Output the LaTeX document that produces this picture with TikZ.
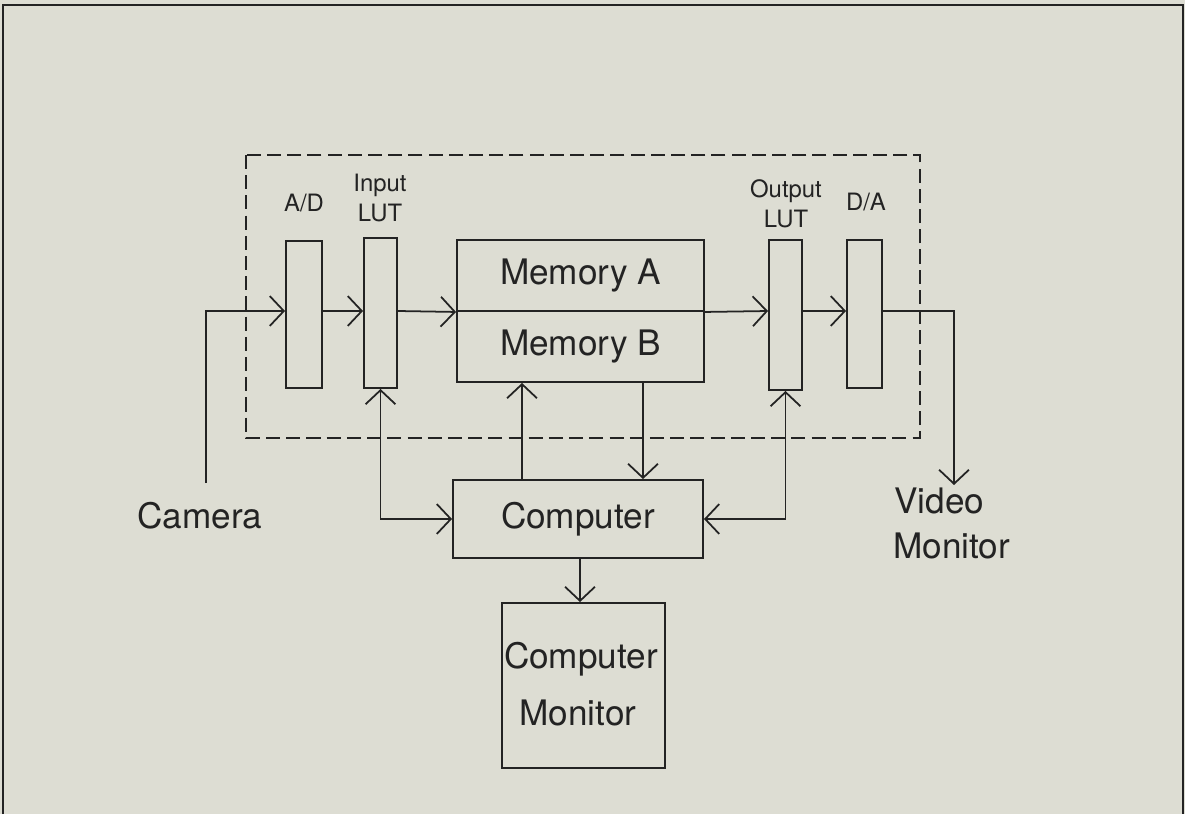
\documentclass[tikz,border=0pt]{standalone}
\usepackage{fontspec}
\setmainfont{TeX Gyre Heros}
\usetikzlibrary{arrows.meta}
\definecolor{paper}{RGB}{221,221,211}
\definecolor{ink}{RGB}{35,35,35}
\tikzset{
  box/.style={draw=ink, line width=1.1pt, inner sep=0pt},
  big/.style={font=\fontsize{20}{24}\selectfont, text=ink, anchor=base, inner sep=0pt},
  small/.style={font=\fontsize{13.6}{16}\selectfont, text=ink, anchor=base, inner sep=0pt},
  conn/.style={draw=ink, line width=1pt},
  arr/.style={conn, -{Straight Barb[length=8pt,width=17pt,line width=1pt]}},
  darr/.style={conn, {Straight Barb[length=8pt,width=17pt,line width=1pt]}-{Straight Barb[length=8pt,width=17pt,line width=1pt]}},
}
\begin{document}
\begin{tikzpicture}[x=0.02cm,y=-0.02cm]
\fill[paper] (0,0) rectangle (1185,814);
\useasboundingbox (0,0) rectangle (1185,814);
% outer frame
\draw[ink, line width=1.5pt] (3,814) -- (3,5) -- (1183,5) -- (1183,814);
% dashed enclosure
\draw[ink, line width=1pt, dash pattern=on 8pt off 3.5pt] (246,155) rectangle (920,438);

% blocks
\node[box, minimum width=0.72cm, minimum height=2.94cm] (ad) at (304,314.5) {};
\node[box, minimum width=0.66cm, minimum height=3.0cm] (inlut) at (380.5,313) {};
\node[box, minimum width=4.94cm, minimum height=1.42cm, big, anchor=center] (memA) at (580.5,275.5) {Memory A};
\node[box, minimum width=4.94cm, minimum height=1.42cm, big, anchor=center] (memB) at (580.5,346.5) {Memory B};
\node[box, minimum width=0.66cm, minimum height=3.0cm] (outlut) at (785.5,315) {};
\node[box, minimum width=0.70cm, minimum height=2.96cm] (da) at (864.5,314) {};
\node[box, minimum width=5.0cm, minimum height=1.56cm, big, anchor=center] (comp) at (578,519) {Computer};
\node[box, minimum width=3.26cm, minimum height=3.3cm] (mon) at (583.5,685.5) {};

% labels
\node[small] (lad) at (304,212) {A/D};
\node[small] (lin1) at (380,192) {Input};
\node[small] (lin2) at (380,221) {LUT};
\node[small] (lout1) at (786,197) {Output};
\node[small] (lout2) at (786,227) {LUT};
\node[small] (lda) at (866,210) {D/A};
\node[big] (lcam) at (200,528) {Camera};
\node[big, anchor=base west] (lvm1) at (894,513) {Video};
\node[big, anchor=base west] (lvm2) at (893,558) {Monitor};
\node[big] (lcm1) at (581,668) {Computer};
\node[big] (lcm2) at (578,725) {Monitor};

% helper coordinates
\coordinate (sig) at (0,311);
\coordinate (cam) at (206,483);
\coordinate (vturn) at (954,311);
\coordinate (vm) at (954,485);
\coordinate (up) at (522,0);
\coordinate (dn) at (643,0);
\coordinate (cm) at (580,0);

% signal path
\draw[arr] (cam) |- (ad.west |- sig);
\draw[arr] (ad.east |- sig) -- (inlut.west |- sig);
\draw[arr] (inlut.east |- sig) -- (memA.south west);
\draw[arr] (memA.south east) -- (outlut.west |- sig);
\draw[arr] (outlut.east |- sig) -- (da.west |- sig);
\draw[arr] (da.east |- sig) -- (vturn) -- (vm);

% computer links
\draw[darr] (inlut.south) |- (comp.west);
\draw[arr] (comp.north -| up) -- (memB.south -| up);
\draw[arr] (memB.south -| dn) -- (comp.north -| dn);
\draw[darr] (outlut.south) |- (comp.east);
\draw[arr] (comp.south -| cm) -- (mon.north -| cm);
\end{tikzpicture}
\end{document}
